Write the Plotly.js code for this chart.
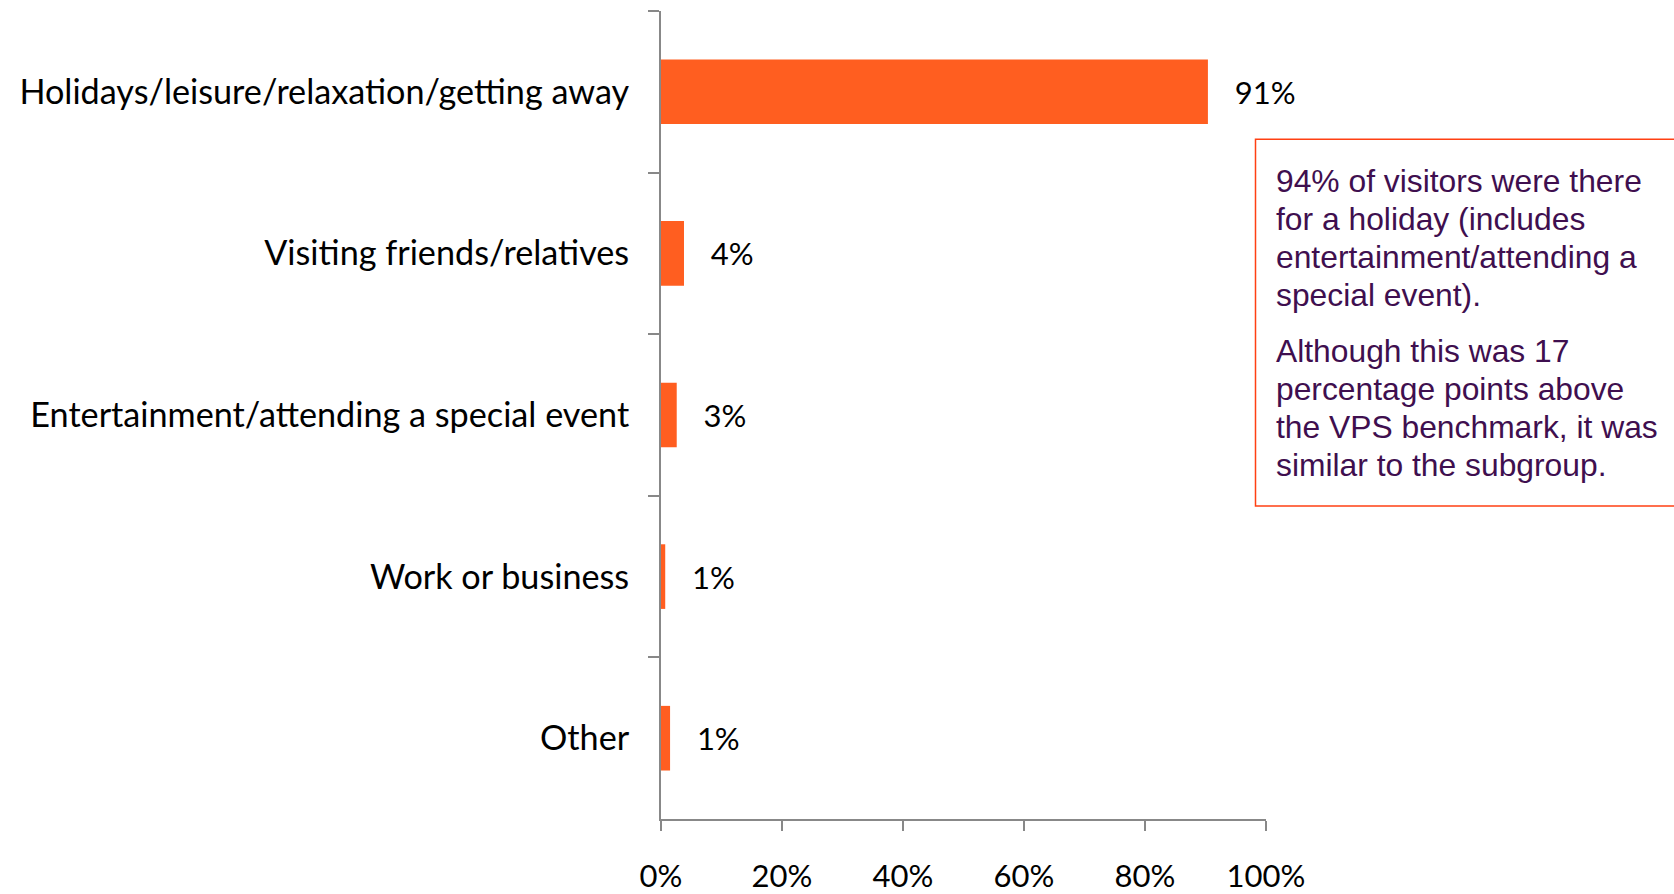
<!DOCTYPE html>
<html>
<head>
<meta charset="utf-8">
<script src="https://cdn.plot.ly/plotly-3.0.1.min.js"></script>
<style>html,body{margin:0;padding:0;background:#fff;}#chart{width:1674px;height:894px;}</style>
</head>
<body>
<div id="chart"></div>
<script>
const categories = [
  "Holidays/leisure/relaxation/getting away",
  "Visiting friends/relatives",
  "Entertainment/attending a special event",
  "Work or business",
  "Other"
];
const values = [90.4, 3.8, 2.6, 0.7, 1.5];
const valueLabels = ["91%", "4%", "3%", "1%", "1%"];
const xTickValues = [0, 20, 40, 60, 80, 100];
const xTickLabels = ["0%", "20%", "40%", "60%", "80%", "100%"];
const noteParagraph1 = ["94% of visitors were there", "for a holiday (includes", "entertainment/attending a", "special event)."];
const noteParagraph2 = ["Although this was 17", "percentage points above", "the VPS benchmark, it was", "similar to the subgroup."];

const W = 1674, H = 894;
const M = {l: 661, r: 408, t: 11, b: 75};
const plotW = W - M.l - M.r, plotH = H - M.t - M.b;
const px2x = px => (px - M.l) / plotW;
const py2y = py => (H - M.b - py) / plotH;

const catFont = {family: "Lato, sans-serif", size: 34.2, color: "#000000"};
const numFont = {family: "Lato, sans-serif", size: 31, color: "#000000"};
const noteFont = {family: "'Liberation Sans', Arial, sans-serif", size: 31.8, color: "#3F0F4F"};
const axisGrey = "#888888";

const trace = {
  type: "bar",
  orientation: "h",
  x: values,
  y: categories,
  marker: {color: "#FF5E20"},
  text: valueLabels.map(t => "\u00a0\u00a0\u00a0" + t),
  textposition: "outside",
  textfont: numFont,
  constraintext: "none",
  cliponaxis: false,
  hoverinfo: "skip"
};

// note box text: one annotation per line for exact line spacing
const lineGap = 38, paraGap = 56.6, firstBaseline = 191.7;
const noteAnnotations = [];
let base = firstBaseline;
[noteParagraph1, noteParagraph2].forEach((para, pi) => {
  if (pi > 0) base += paraGap - lineGap;
  para.forEach((line) => {
    noteAnnotations.push({
      xref: "paper", yref: "paper",
      x: px2x(1275), y: py2y(base - 11),
      xanchor: "left", yanchor: "middle",
      align: "left", showarrow: false, borderpad: 0,
      text: line, font: noteFont
    });
    base += lineGap;
  });
});

const layout = {
  width: W,
  height: H,
  margin: {l: M.l, r: M.r, t: M.t, b: M.b, pad: 0},
  paper_bgcolor: "#ffffff",
  plot_bgcolor: "#ffffff",
  showlegend: false,
  bargap: 0.6,
  xaxis: {
    range: [0, 100],
    tickvals: xTickValues,
    ticktext: xTickLabels,
    ticks: "outside",
    ticklen: 10,
    tickwidth: 2,
    tickcolor: axisGrey,
    showline: true,
    linecolor: axisGrey,
    linewidth: 2,
    showgrid: false,
    zeroline: false,
    tickfont: numFont,
    ticklabelstandoff: 19,
    fixedrange: true
  },
  yaxis: {
    type: "category",
    autorange: "reversed",
    ticks: "outside",
    tickson: "boundaries",
    ticklen: 11,
    tickwidth: 2,
    tickcolor: axisGrey,
    showline: true,
    linecolor: axisGrey,
    linewidth: 2,
    showgrid: false,
    zeroline: false,
    tickfont: catFont,
    ticklabelstandoff: 23,
    fixedrange: true
  },
  shapes: [{
    type: "rect",
    xref: "paper", yref: "paper",
    x0: px2x(1255.5), x1: px2x(1690), y0: py2y(506), y1: py2y(139.3),
    line: {color: "#FF4013", width: 1.5},
    fillcolor: "rgba(0,0,0,0)"
  }],
  annotations: noteAnnotations
};

Plotly.newPlot("chart", [trace], layout, {displayModeBar: false, staticPlot: true});
</script>
</body>
</html>
